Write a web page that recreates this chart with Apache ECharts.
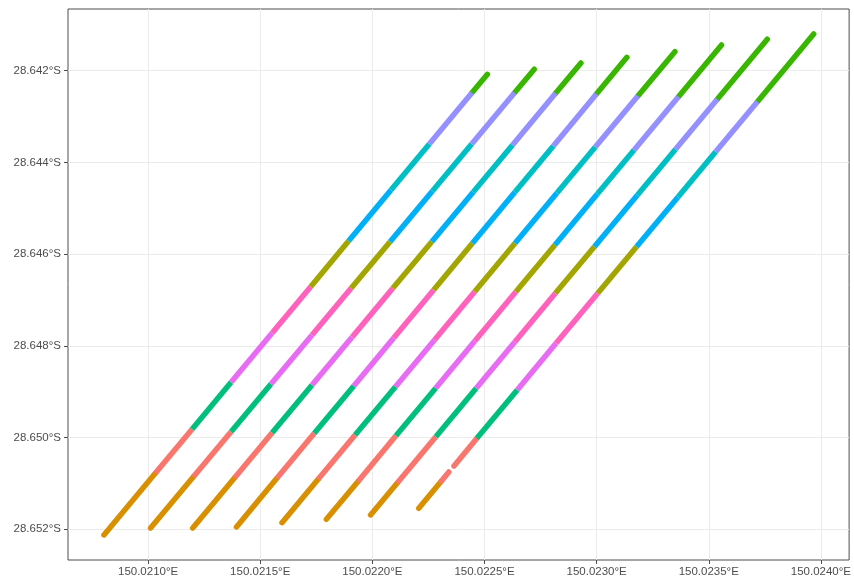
<!DOCTYPE html>
<html>
<head>
<meta charset="utf-8">
<script src="https://cdn.jsdelivr.net/npm/echarts@6/dist/echarts.min.js"></script>
<style>
  html, body { margin: 0; padding: 0; background: #ffffff; }
  #chart { width: 854px; height: 581px; }
</style>
</head>
<body>
<div id="chart"></div>
<script>
// Band colours, in the order each transect passes through them (south to north)
const bandColors = ['#D89000', '#F8766D', '#00BF7D', '#E76BF3', '#FF62BC',
                    '#A3A500', '#00B0F6', '#00BFC4', '#9590FF', '#39B600'];

// Transect vertices as [longitude °E, latitude °S]; the band changes at each inner vertex
const transect1 = [
  [150.020803, 28.652124], [150.021032, 28.650779], [150.021196, 28.649820],
  [150.021370, 28.648795], [150.021553, 28.647720], [150.021725, 28.646710],
  [150.021894, 28.645714], [150.022083, 28.644601], [150.022254, 28.643598],
  [150.022444, 28.642480], [150.022513, 28.642079]
];
const transect2 = [
  [150.021011, 28.651972], [150.021202, 28.650853], [150.021370, 28.649872],
  [150.021548, 28.648832], [150.021731, 28.647763], [150.021905, 28.646745],
  [150.022079, 28.645729], [150.022268, 28.644623], [150.022443, 28.643598],
  [150.022634, 28.642480], [150.022722, 28.641969]
];
const transect3 = [
  [150.021199, 28.651972], [150.021385, 28.650881], [150.021553, 28.649894],
  [150.021731, 28.648854], [150.021910, 28.647807], [150.022091, 28.646745],
  [150.022265, 28.645729], [150.022450, 28.644645], [150.022625, 28.643620],
  [150.022817, 28.642493], [150.022930, 28.641832]
];
const transect4 = [
  [150.021394, 28.651950], [150.021574, 28.650888], [150.021741, 28.649907],
  [150.021917, 28.648875], [150.022095, 28.647829], [150.022273, 28.646782],
  [150.022446, 28.645764], [150.022636, 28.644645], [150.022807, 28.643642],
  [150.022999, 28.642508], [150.023135, 28.641708]
];
const transect5 = [
  [150.021597, 28.651856], [150.021758, 28.650910], [150.021923, 28.649944],
  [150.022103, 28.648891], [150.022277, 28.647872], [150.022456, 28.646819],
  [150.022636, 28.645764], [150.022823, 28.644667], [150.022994, 28.643664],
  [150.023184, 28.642552], [150.023349, 28.641586]
];
const transect6 = [
  [150.021795, 28.651782], [150.021935, 28.650962], [150.022105, 28.649959],
  [150.022282, 28.648925], [150.022457, 28.647894], [150.022640, 28.646819],
  [150.022814, 28.645801], [150.023003, 28.644689], [150.023167, 28.643729],
  [150.023365, 28.642567], [150.023557, 28.641440]
];
const transect7 = [
  [150.021992, 28.651688], [150.022110, 28.650997], [150.022283, 28.649981],
  [150.022463, 28.648925], [150.022635, 28.647916], [150.022816, 28.646854],
  [150.022990, 28.645838], [150.023182, 28.644710], [150.023352, 28.643714],
  [150.023538, 28.642624], [150.023761, 28.641315]
];
const transect8 = [
  [150.022207, 28.651542], [150.022308, 28.650947], [150.022341, 28.650751],
  [150.022364, 28.650620], [150.022466, 28.650016], [150.022646, 28.648963],
  [150.022819, 28.647944], [150.023005, 28.646854], [150.023178, 28.645838],
  [150.023363, 28.644754], [150.023531, 28.643766], [150.023717, 28.642676],
  [150.023968, 28.641200]
];

// Band index of each leg between consecutive vertices (null: no fixes on that leg)
const fullBands = [0, 1, 2, 3, 4, 5, 6, 7, 8, 9];
const transect8Bands = [0, 1, null, 1, 2, 3, 4, 5, 6, 7, 8, 9];

// Axis break values
const lonTicks = [150.0210, 150.0215, 150.0220, 150.0225, 150.0230, 150.0235, 150.0240];
const latTicks = [28.642, 28.644, 28.646, 28.648, 28.650, 28.652];

const transects = [transect1, transect2, transect3, transect4,
                   transect5, transect6, transect7, transect8];
const bandsPerTransect = [fullBands, fullBands, fullBands, fullBands,
                          fullBands, fullBands, fullBands, transect8Bands];

// One line piece per leg; ends of a track (or next to a gap) are rounded,
// inner joints are butt-ended and drawn above so the rounded caps stay hidden.
const series = [];
transects.forEach((verts, t) => {
  const bands = bandsPerTransect[t];
  bands.forEach((band, i) => {
    if (band === null) return;
    const isEdge = i === 0 || i === bands.length - 1 ||
                   bands[i - 1] === null || bands[i + 1] === null;
    series.push({
      type: 'line',
      data: [
        [verts[i][0], -verts[i][1]],
        [verts[i + 1][0], -verts[i + 1][1]]
      ],
      showSymbol: false,
      silent: true,
      z: isEdge ? 2 : 3,
      lineStyle: {
        color: bandColors[band],
        width: 5.5,
        cap: isEdge ? 'round' : 'butt',
        join: 'round'
      }
    });
  });
});

const axisText = { color: '#4D4D4D', fontSize: 11.5, fontFamily: 'Liberation Sans, Arial, sans-serif' };

const chart = echarts.init(document.getElementById('chart'), null, { renderer: 'canvas' });
chart.setOption({
  animation: false,
  backgroundColor: '#ffffff',
  grid: {
    left: 68, right: 3, top: 9, bottom: 21,
    show: true,
    borderColor: '#4d4d4d',
    borderWidth: 1,
    backgroundColor: 'transparent'
  },
  xAxis: {
    type: 'value',
    min: 150.02064279,
    max: 150.02412589,
    axisLine: { show: false },
    axisTick: {
      show: true, length: 4,
      lineStyle: { color: '#4d4d4d', width: 1 },
      customValues: lonTicks
    },
    axisLabel: Object.assign({
      margin: 6,
      customValues: lonTicks,
      formatter: v => v.toFixed(4) + '°E'
    }, axisText),
    splitLine: { show: true, lineStyle: { color: '#EBEBEB', width: 1 } }
  },
  yAxis: {
    type: 'value',
    min: -28.65266943,
    max: -28.6406546,
    axisLine: { show: false },
    axisTick: {
      show: true, length: 4,
      lineStyle: { color: '#4d4d4d', width: 1 },
      customValues: latTicks.map(v => -v)
    },
    axisLabel: Object.assign({
      margin: 7,
      customValues: latTicks.map(v => -v),
      formatter: v => (-v).toFixed(3) + '°S'
    }, axisText),
    splitLine: { show: true, lineStyle: { color: '#EBEBEB', width: 1 } }
  },
  series: series
});
</script>
</body>
</html>
